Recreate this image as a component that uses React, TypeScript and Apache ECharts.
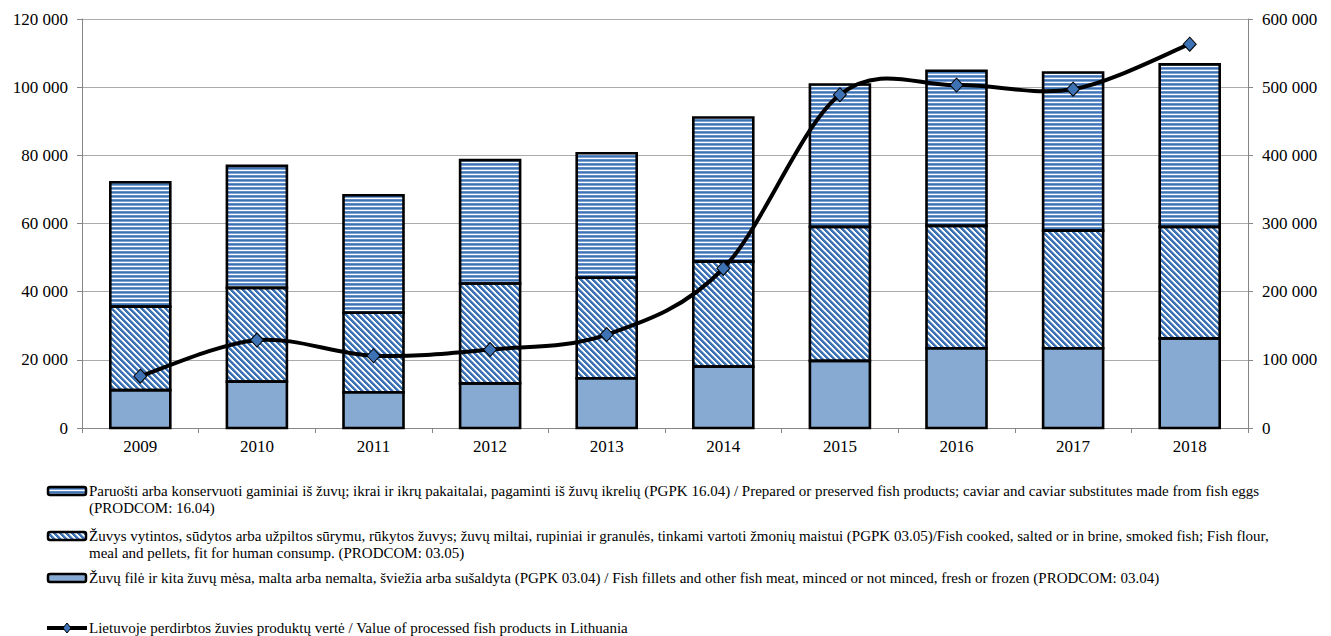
import React, { useEffect, useRef } from "react";
import * as echarts from "echarts";

const years = ["2009", "2010", "2011", "2012", "2013", "2014", "2015", "2016", "2017", "2018"];
// thousand EUR (left axis), stacked
const filletValues = [11100, 13600, 10500, 13100, 14600, 18000, 19700, 23400, 23400, 26300];
const cookedValues = [24500, 27500, 23300, 29300, 29500, 30800, 39300, 35900, 34500, 32700];
const preparedValues = [36500, 35800, 34500, 36200, 36500, 42300, 41800, 45500, 46400, 47700];
// right axis
const processedValue = [76000, 129000, 106000, 115000, 137000, 234000, 489000, 503000, 497000, 563000];

const seriesNames = [
  "Paruošti arba konservuoti gaminiai iš žuvų",
  "Žuvys vytintos, sūdytos arba užpiltos sūrymu",
  "Žuvų filė ir kita žuvų mėsa",
  "Lietuvoje perdirbtos žuvies produktų vertė",
];

const legendLines1 = [
  "Paruošti arba konservuoti gaminiai iš žuvų; ikrai ir ikrų pakaitalai, pagaminti iš žuvų ikrelių (PGPK 16.04) / Prepared or preserved fish products; caviar and caviar substitutes made from fish eggs",
  "(PRODCOM: 16.04)",
];
const legendLines2 = [
  "Žuvys vytintos, sūdytos arba užpiltos sūrymu, rūkytos žuvys; žuvų miltai, rupiniai ir granulės, tinkami vartoti žmonių maistui (PGPK 03.05)/Fish cooked, salted or in brine, smoked fish; Fish flour,",
  "meal and pellets, fit for human consump. (PRODCOM: 03.05)",
];
const legendLines3 = [
  "Žuvų filė ir kita žuvų mėsa, malta arba nemalta, šviežia arba sušaldyta (PGPK 03.04) / Fish fillets and other fish meat, minced or not minced, fresh or frozen (PRODCOM: 03.04)",
];
const legendLines4 = [
  "Lietuvoje perdirbtos žuvies produktų vertė / Value of processed fish products in Lithuania",
];

const BLUE = "#3D72B4";
const LIGHT = "#86AAD2";
const FONT = "'Liberation Serif', 'Times New Roman', Times, serif";
const BAR_W = 60;

function hex(c: string): number[] {
  const h = c.replace("#", "");
  return [parseInt(h.slice(0, 2), 16), parseInt(h.slice(2, 4), 16), parseInt(h.slice(4, 6), 16)];
}

function makeTile(size: number, colorAt: (x: number, y: number) => string) {
  const c = document.createElement("canvas");
  c.width = size;
  c.height = size;
  const ctx = c.getContext("2d")!;
  const img = ctx.createImageData(size, size);
  for (let y = 0; y < size; y++) {
    for (let x = 0; x < size; x++) {
      const [r, g, b] = hex(colorAt(x, y));
      const i = (y * size + x) * 4;
      img.data[i] = r;
      img.data[i + 1] = g;
      img.data[i + 2] = b;
      img.data[i + 3] = 255;
    }
  }
  ctx.putImageData(img, 0, 0);
  return { image: c.toDataURL(), repeat: "repeat", imageWidth: size, imageHeight: size } as any;
}

function fmt(v: number) {
  return String(v).replace(/\B(?=(\d{3})+(?!\d))/g, " ");
}

export default function App() {
  const ref = useRef<HTMLDivElement>(null);
  useEffect(() => {
    if (!ref.current) return;
    const chart = echarts.init(ref.current, null, { renderer: "svg" });

    const hPat = makeTile(4, (x, y) => [BLUE, "#7FA4D3", "#FFFFFF", "#5F8CC6"][y % 4]);
    const dPat = makeTile(6, (x, y) => {
      const m = (((x - y) % 6) + 6) % 6;
      return m < 3 ? BLUE : m === 3 ? "#9FBDE1" : "#FFFFFF";
    });

    const barStyle = (fill: any) => ({ color: fill, borderWidth: 0 });

    const txt = (x: number, y: number, t: string) => ({
      type: "text",
      x,
      y,
      style: { text: t, fontSize: 15, fontFamily: FONT, fill: "#000", verticalAlign: "middle", align: "left" },
    });

    const legendItem = (y: number, fill: any, lines: string[], lineGap: number) => {
      const els: any[] = [
        {
          type: "rect",
          shape: { x: 48, y: y - 4, width: 38, height: 8, r: 2 },
          style: { fill, stroke: "#000", lineWidth: 2.5 },
        },
      ];
      lines.forEach((t, i) => els.push(txt(89, y + i * lineGap, t)));
      return els;
    };

    const graphic: any[] = [
      ...legendItem(491, hPat, legendLines1, 17),
      ...legendItem(536, dPat, legendLines2, 17),
      ...legendItem(578, LIGHT, legendLines3, 17),
      { type: "line", shape: { x1: 47, y1: 628, x2: 87, y2: 628 }, style: { stroke: "#000", lineWidth: 4 } },
      {
        type: "polygon",
        shape: { points: [[67, 623], [71, 628], [67, 633], [63, 628]] },
        style: { fill: BLUE, stroke: "#000", lineWidth: 1 },
      },
      txt(89, 628, legendLines4[0]),
    ];

    // outlines of stacked segments, from the same data
    const stackLevels = years.map((_, i) => [
      i,
      filletValues[i],
      filletValues[i] + cookedValues[i],
      filletValues[i] + cookedValues[i] + preparedValues[i],
    ]);
    const renderOutline = (params: any, api: any) => {
      const i = api.value(0);
      const base = api.coord([i, 0]);
      const ys = [base[1], api.coord([i, api.value(1)])[1], api.coord([i, api.value(2)])[1], api.coord([i, api.value(3)])[1]];
      const x = base[0] - BAR_W / 2;
      const children: any[] = [];
      for (let k = 0; k < 3; k++) {
        children.push({
          type: "rect",
          shape: { x, y: ys[k + 1], width: BAR_W, height: ys[k] - ys[k + 1] },
          style: { fill: null, stroke: "#000", lineWidth: 2.6 },
        });
      }
      return { type: "group", children };
    };

    const n = processedValue.length;
    const renderSmooth = (params: any, api: any) => {
      const i = params.dataIndex;
      if (i >= n - 1) return null;
      const P = (k: number) => {
        const kk = Math.max(0, Math.min(n - 1, k));
        return api.coord([kk, processedValue[kk]]);
      };
      const p0 = P(i - 1), p1 = P(i), p2 = P(i + 1), p3 = P(i + 2);
      const t = 1 / 6;
      return {
        type: "bezierCurve",
        shape: {
          x1: p1[0], y1: p1[1],
          cpx1: p1[0] + (p2[0] - p0[0]) * t, cpy1: p1[1] + (p2[1] - p0[1]) * t,
          cpx2: p2[0] - (p3[0] - p1[0]) * t, cpy2: p2[1] - (p3[1] - p1[1]) * t,
          x2: p2[0], y2: p2[1],
        },
        style: { stroke: "#000", lineWidth: 4, fill: null, lineCap: "round" },
      };
    };

    chart.setOption({
      animation: false,
      textStyle: { fontFamily: FONT },
      grid: { left: 82, right: 83, top: 19, bottom: 208, containLabel: false },
      xAxis: {
        type: "category",
        data: years,
        axisLine: { lineStyle: { color: "#868686", width: 1 } },
        axisTick: { show: true, length: 5, lineStyle: { color: "#868686" } },
        axisLabel: { color: "#000", fontSize: 17, fontFamily: FONT, margin: 10 },
      },
      yAxis: [
        {
          type: "value",
          min: 0,
          max: 120000,
          interval: 20000,
          axisLine: { show: true, lineStyle: { color: "#868686" } },
          axisTick: { show: true, length: 5, lineStyle: { color: "#868686" } },
          splitLine: { lineStyle: { color: "#ABABAB", width: 1 } },
          axisLabel: { color: "#000", fontSize: 17, fontFamily: FONT, margin: 14, formatter: (v: number) => fmt(v) },
        },
        {
          type: "value",
          min: 0,
          max: 600000,
          interval: 100000,
          position: "right",
          axisLine: { show: true, lineStyle: { color: "#868686" } },
          axisTick: { show: true, length: 5, lineStyle: { color: "#868686" } },
          splitLine: { show: false },
          axisLabel: { color: "#000", fontSize: 17, fontFamily: FONT, margin: 14, formatter: (v: number) => fmt(v) },
        },
      ],
      series: [
        { name: seriesNames[2], type: "bar", stack: "a", barWidth: BAR_W, data: filletValues, itemStyle: barStyle(LIGHT) },
        { name: seriesNames[1], type: "bar", stack: "a", barWidth: BAR_W, data: cookedValues, itemStyle: barStyle(dPat) },
        { name: seriesNames[0], type: "bar", stack: "a", barWidth: BAR_W, data: preparedValues, itemStyle: barStyle(hPat) },
        {
          name: "outline",
          type: "custom",
          data: stackLevels,
          encode: { x: 0, y: 3 },
          renderItem: renderOutline,
          z: 4,
          silent: true,
        },
        {
          name: seriesNames[3],
          type: "custom",
          yAxisIndex: 1,
          data: processedValue.map((v, i) => [i, v]),
          encode: { x: 0, y: 1 },
          renderItem: renderSmooth,
          z: 5,
        },
        {
          name: seriesNames[3] + " ",
          type: "scatter",
          yAxisIndex: 1,
          data: processedValue,
          z: 6,
          symbol: "diamond",
          symbolSize: [13, 14],
          itemStyle: { color: BLUE, borderColor: "#000", borderWidth: 1, opacity: 1 },
        },
      ],
      graphic,
    });
    return () => chart.dispose();
  }, []);
  return <div ref={ref} style={{ position: "fixed", left: 0, top: 0, width: 1331, height: 636, background: "#fff" }} />;
}
